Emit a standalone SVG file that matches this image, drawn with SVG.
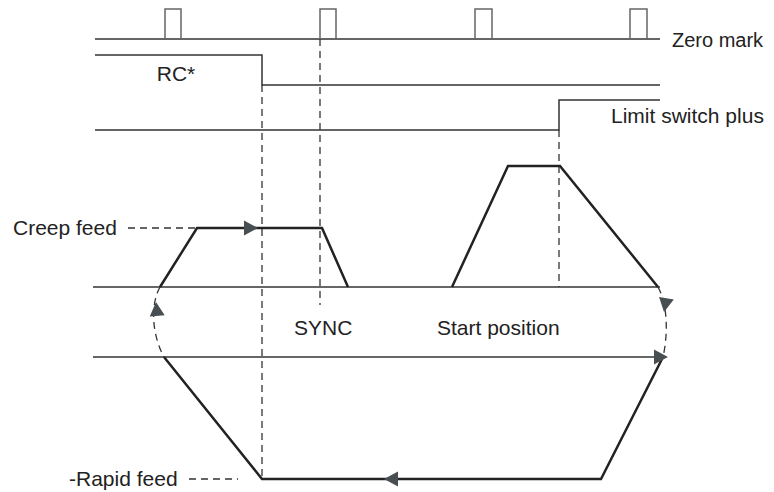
<svg xmlns="http://www.w3.org/2000/svg" width="774" height="492" viewBox="0 0 774 492">
<style>
.sig{fill:none;stroke:#333;stroke-width:1.5}
.pulse{fill:none;stroke:#666;stroke-width:1.5}
.path{fill:none;stroke:#222;stroke-width:2.5;stroke-linejoin:miter}
.dash{fill:none;stroke:#333;stroke-width:1.3;stroke-dasharray:7,5}
.arr{fill:#474f53}
.t{font-family:"Liberation Sans",Arial,sans-serif;font-size:21px;fill:#222}
</style>
<defs>
<polygon id="tri" class="arr" points="0,0 -14,-7.5 -14,7.5"/>
</defs>
<rect width="774" height="492" fill="#fff"/>
<g id="zero-mark">
<path class="sig" d="M95,39 H660"/>
<path class="pulse" d="M165,39 V9 H181 V39 M320,39 V9 H336 V39 M475,39 V9 H492 V39 M630,39 V9 H647 V39"/>
<text class="t" x="672" y="47" style="font-size:20px">Zero mark</text>
</g>
<g id="rc">
<path class="sig" d="M95,55 H262 V85 H660"/>
<text class="t" x="176" y="81" text-anchor="middle">RC*</text>
</g>
<g id="limit-switch">
<path class="sig" d="M95,130 H559 V100 H660"/>
<text class="t" x="611" y="123">Limit switch plus</text>
</g>
<g id="axes">
<path class="sig" d="M93,287 H660"/>
<path class="sig" d="M93,357 H660"/>
</g>
<g id="labels">
<text class="t" x="13" y="235">Creep feed</text>
<text class="t" x="294" y="335">SYNC</text>
<text class="t" x="437" y="335">Start position</text>
<text class="t" x="69" y="486">-Rapid feed</text>
</g>
<g id="connectors">
<path class="dash" d="M262,85 V479"/>
<path class="dash" d="M320,39 V305"/>
<path class="dash" d="M559,130 V287"/>
<path class="dash" d="M128,228 H195"/>
<path class="dash" d="M189,479 H238"/>
<path class="dash" d="M160,287 C150,305 152,335 164,357"/>
<path class="dash" d="M658,287 C668,305 668,335 663,357"/>
<path class="path" d="M160,287 L197,228 H322 L348,287"/>
<path class="path" d="M452,287 L508,166 H560 L658,287"/>
<path class="path" d="M164,357 L262,479 H601 L663,357"/>
<use href="#tri" transform="translate(258,228)"/>
<use href="#tri" transform="translate(384,479) rotate(180)"/>
<use href="#tri" transform="translate(668,357)"/>
<use href="#tri" transform="translate(156,302) rotate(-95)"/>
<use href="#tri" transform="translate(664,312) rotate(100)"/>
</g>
</svg>
